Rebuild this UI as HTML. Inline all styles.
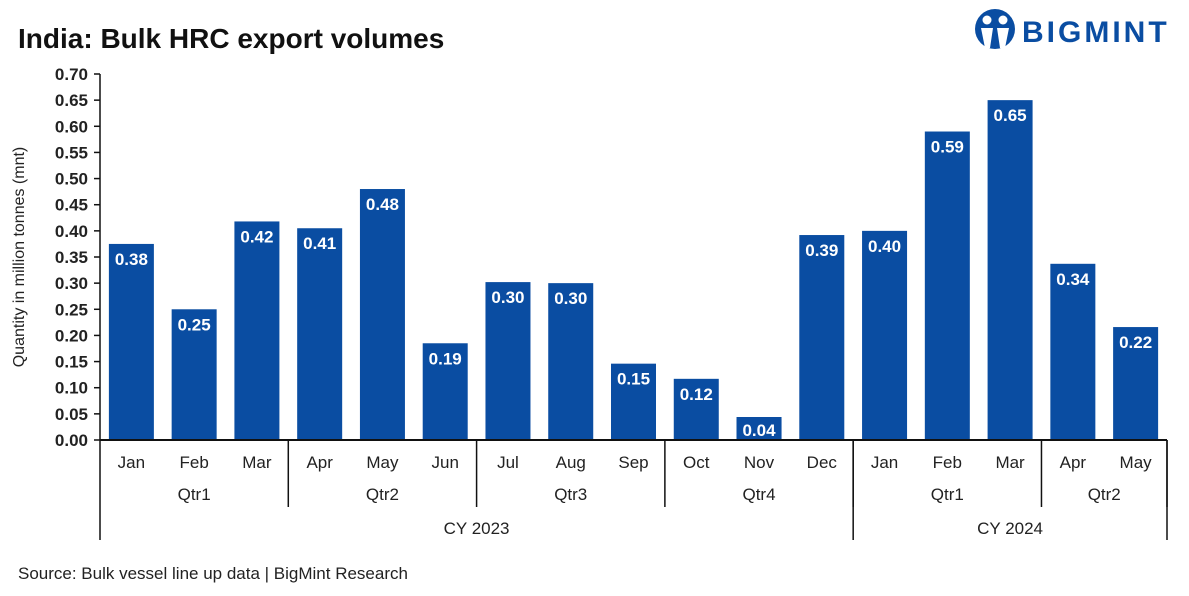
<!DOCTYPE html>
<html><head><meta charset="utf-8"><style>
body{margin:0;background:#fff;font-family:"Liberation Sans",Arial,sans-serif}
</style></head><body>
<svg id="c" width="1189" height="591" viewBox="0 0 1189 591" xmlns="http://www.w3.org/2000/svg">
<rect width="1189" height="591" fill="#fff"/>
<text x="18" y="48" font-size="28" font-weight="bold" fill="#111">India: Bulk HRC export volumes</text>
<g>
<circle cx="995" cy="29" r="20" fill="#0a4da2"/>
<circle cx="987" cy="20" r="4.5" fill="#fff"/><circle cx="1003" cy="20" r="4.5" fill="#fff"/>
<path d="M981 28 L993 28 L990 48 L985 48 Z M997 28 L1009 28 L1005 48 L1000 48 Z" fill="#fff"/>
<text x="1022" y="42" font-size="30" font-weight="bold" fill="#0a4da2" letter-spacing="3">BIGMINT</text>
</g>
<text transform="translate(24,257) rotate(-90)" text-anchor="middle" font-size="16" fill="#222">Quantity in million tonnes (mnt)</text>
<g id="yaxis"></g><g id="bars"></g><g id="xaxis"></g>
<text x="18" y="579" font-size="17" fill="#222">Source: Bulk vessel line up data | BigMint Research</text>
</svg>
<script>
const months=["Jan","Feb","Mar","Apr","May","Jun","Jul","Aug","Sep","Oct","Nov","Dec","Jan","Feb","Mar","Apr","May"];
const values=[0.375,0.25,0.418,0.405,0.48,0.185,0.302,0.30,0.146,0.117,0.04,0.392,0.40,0.59,0.65,0.337,0.216];
const labels=["0.38","0.25","0.42","0.41","0.48","0.19","0.30","0.30","0.15","0.12","0.04","0.39","0.40","0.59","0.65","0.34","0.22"];
const quarters=[["Qtr1",3],["Qtr2",3],["Qtr3",3],["Qtr4",3],["Qtr1",3],["Qtr2",2]];
const years=[["CY 2023",12],["CY 2024",5]];
const yTicks=[0,0.05,0.1,0.15,0.2,0.25,0.3,0.35,0.4,0.45,0.5,0.55,0.6,0.65,0.7];
const NS="http://www.w3.org/2000/svg";
const X0=100,X1=1167,Y0=440,Y1=74,YMAX=0.7;
const bw=(X1-X0)/months.length;
const y=v=>Y0-(v/YMAX)*(Y0-Y1);
const x=i=>X0+bw*i;
function mk(t,a,p,txt){const e=document.createElementNS(NS,t);for(const k in a)e.setAttribute(k,a[k]);if(txt!=null)e.textContent=txt;p.appendChild(e);return e;}
const ya=document.getElementById('yaxis'),ba=document.getElementById('bars'),xa=document.getElementById('xaxis');
yTicks.forEach(t=>{
 const l=mk('line',{x1:X0-6,x2:X0,y1:y(t),y2:y(t),stroke:'#111','stroke-width':1.5},ya);
 
 
 const tx=mk('text',{x:X0-12,y:y(t)+6,'text-anchor':'end','font-size':17,'font-weight':'bold',fill:'#222'},ya,t.toFixed(2));
 
 
});
const ax=mk('line',{x1:X0,x2:X0,y1:Y1,y2:Y0,stroke:'#111','stroke-width':1.5},ya);


values.forEach((v,i)=>{
 const w=45,cx=x(i)+bw/2;
 const r=mk('rect',{x:cx-w/2,y:y(v),width:w,height:Y0-y(v),fill:'#0a4da2'},ba);
 
 
 const ly=Math.min(y(v)+21,Y0-4);
 if(y(v)+21>Y0-4){mk('rect',{x:cx-w/2,y:ly-19,width:w,height:24,fill:'#0a4da2'},ba);}
 const t=mk('text',{x:cx,y:ly,'text-anchor':'middle','font-size':17,'font-weight':'bold',fill:'#fff'},ba,labels[i]);
 
 
 const m=mk('text',{x:cx,y:468,'text-anchor':'middle','font-size':17,fill:'#222'},xa,months[i]);
 
 
});
const base=mk('line',{x1:X0,x2:X1,y1:Y0,y2:Y0,stroke:'#111','stroke-width':2},xa);


let k=0;
mk('line',{x1:X0,x2:X0,y1:Y0,y2:540,stroke:'#111','stroke-width':1.5},xa);
quarters.forEach(q=>{
 const s=x(k),e=x(k+q[1]);k+=q[1];
 const t=mk('text',{x:(s+e)/2,y:500,'text-anchor':'middle','font-size':17,fill:'#222'},xa,q[0]);
 
 
 mk('line',{x1:e,x2:e,y1:Y0,y2:507,stroke:'#111','stroke-width':1.5},xa);
});
k=0;
years.forEach(yv=>{
 const s=x(k),e=x(k+yv[1]);k+=yv[1];
 const t=mk('text',{x:(s+e)/2,y:534,'text-anchor':'middle','font-size':17,fill:'#222'},xa,yv[0]);
 
 
 mk('line',{x1:e,x2:e,y1:Y0,y2:540,stroke:'#111','stroke-width':1.5},xa);
});
</script>
</body></html>
